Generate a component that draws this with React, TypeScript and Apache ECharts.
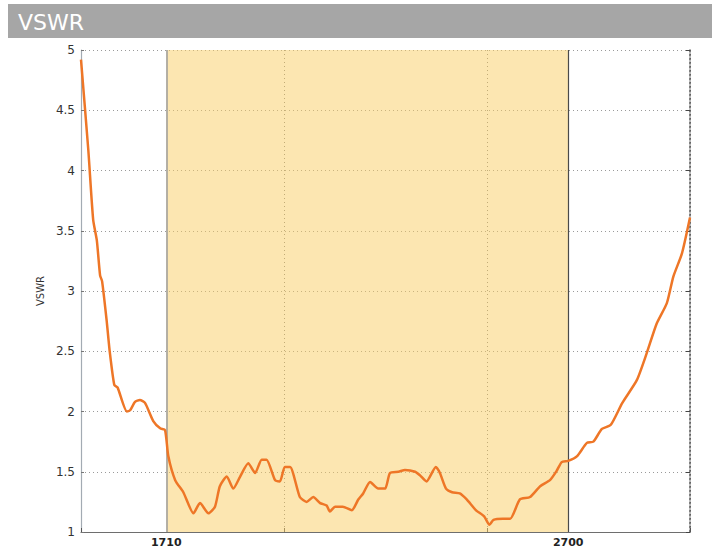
import React, { useEffect, useRef } from "react";
import * as echarts from "echarts";

const freqs = [
  1500, 1518, 1530, 1539, 1547, 1552, 1563, 1571, 1582, 1590, 1613, 1621, 1633, 1645, 1658, 1678,
  1695, 1707, 1715, 1732, 1752, 1777, 1793, 1814, 1830, 1842, 1859, 1875, 1892, 1912, 1929, 1945,
  1957, 1978, 1990, 2002, 2015, 2039, 2056, 2072, 2089, 2105, 2113, 2126, 2145, 2167, 2183, 2195,
  2212, 2232, 2249, 2261, 2282, 2298, 2323, 2335, 2351, 2374, 2384, 2399, 2414, 2433, 2450, 2473,
  2493, 2506, 2516, 2539, 2557, 2581, 2606, 2631, 2655, 2672, 2684, 2700, 2722, 2746, 2762, 2783,
  2805, 2833, 2869, 2893, 2918, 2943, 2959, 2980, 3000,
];
const vswr = [
  4.92, 4.17, 3.59, 3.42, 3.13, 3.08, 2.76, 2.49, 2.22, 2.2, 2.0, 2.01, 2.08, 2.095, 2.07, 1.92,
  1.86, 1.846, 1.63, 1.43, 1.33, 1.155, 1.24, 1.155, 1.21, 1.38, 1.46, 1.36, 1.46, 1.57, 1.49, 1.6,
  1.6, 1.43, 1.42, 1.54, 1.54, 1.29, 1.25, 1.29, 1.24, 1.22, 1.17, 1.21, 1.21, 1.18, 1.27, 1.32,
  1.415, 1.36, 1.36, 1.49, 1.5, 1.515, 1.5, 1.47, 1.42, 1.54, 1.49, 1.36, 1.33, 1.32, 1.27, 1.18,
  1.13, 1.06, 1.1, 1.11, 1.11, 1.27, 1.29, 1.38, 1.43, 1.51, 1.58, 1.59, 1.63, 1.74, 1.75, 1.855,
  1.89, 2.07, 2.26, 2.48, 2.73, 2.9, 3.12, 3.31, 3.61,
];
const bandStart = 1710;
const bandEnd = 2700;
const xLabels = [1710, 2700];
const title = "VSWR";
const yName = "VSWR";

export default function App() {
  const ref = useRef<HTMLDivElement>(null);
  useEffect(() => {
    if (!ref.current) return;
    const chart = echarts.init(ref.current, undefined, { renderer: "svg" });
    const data = freqs.map((f, i) => [f, vswr[i]]);
    chart.setOption({
      animation: false,
      graphic: [
        { type: "rect", shape: { x: 8, y: 4, width: 704, height: 34 }, style: { fill: "#a6a6a6" }, z: 10 },
        {
          type: "text",
          x: 18,
          y: 22,
          z: 11,
          style: {
            text: title,
            fill: "#ffffff",
            font: "22px 'DejaVu Sans'",
            verticalAlign: "middle",
            align: "left",
          },
        },
      ],
      grid: { left: 81, right: 22, top: 50, bottom: 22, containLabel: false },
      xAxis: [
        {
          type: "value",
          min: 1500,
          max: 3000,
          interval: 500,
          axisLine: { show: true, lineStyle: { color: "#6e6e6e", width: 1.2 } },
          axisTick: { show: true, inside: true, length: 4, lineStyle: { color: "#555" } },
          axisLabel: { show: false },
          splitLine: { show: true, lineStyle: { color: "#8a8a8a", type: [1, 3], width: 1 } },
        },
        {
          type: "value",
          min: 1500,
          max: 3000,
          position: "bottom",
          axisLine: { show: false },
          axisTick: { show: false },
          splitLine: { show: false },
          axisLabel: {
            show: true,
            customValues: xLabels,
            formatter: (v: number) => String(v),
            margin: 5,
            fontSize: 11,
            fontWeight: "bold",
            fontFamily: "DejaVu Sans",
            color: "#222",
          },
        },
      ],
      yAxis: [
        {
          type: "value",
          min: 1,
          max: 5,
          interval: 0.5,
          name: yName,
          nameLocation: "middle",
          nameGap: 36,
          nameTextStyle: { fontSize: 10, color: "#333", fontFamily: "DejaVu Sans" },
          axisLine: { show: true, lineStyle: { color: "#a3abb3", width: 1.2 } },
          axisTick: { show: true, inside: true, length: 3, lineStyle: { color: "#777" } },
          axisLabel: { fontSize: 12, color: "#333", margin: 6, fontFamily: "DejaVu Sans" },
          splitLine: { show: true, lineStyle: { color: "#9a9a9a", type: [1, 3], width: 1 } },
        },
        {
          type: "value",
          min: 1,
          max: 5,
          interval: 0.5,
          position: "right",
          axisLine: { show: true, lineStyle: { color: "#555", type: [2, 2], width: 1.5 } },
          axisTick: { show: true, inside: true, length: 4, lineStyle: { color: "#444" } },
          axisLabel: { show: false },
          splitLine: { show: false },
        },
      ],
      series: [
        {
          type: "line",
          data,
          xAxisIndex: 0,
          yAxisIndex: 0,
          showSymbol: false,
          smooth: 0.2,
          lineStyle: { color: "#ee7627", width: 2.5 },
          z: 5,
          markArea: {
            silent: true,
            itemStyle: { color: "rgba(250,205,100,0.5)" },
            data: [[{ xAxis: bandStart }, { xAxis: bandEnd }]],
          },
          markLine: {
            silent: true,
            symbol: ["none", "none"],
            label: { show: false },
            data: [
              { xAxis: bandStart, lineStyle: { color: "#9c9c9c", type: "solid", width: 1.5 } },
              { xAxis: bandEnd, lineStyle: { color: "#4a4a4a", type: "solid", width: 1.2 } },
            ],
          },
        },
      ],
    });
    return () => chart.dispose();
  }, []);
  return (
    <div
      ref={ref}
      style={{ position: "absolute", left: 0, top: 0, width: 712, height: 554, background: "#fff" }}
    />
  );
}
